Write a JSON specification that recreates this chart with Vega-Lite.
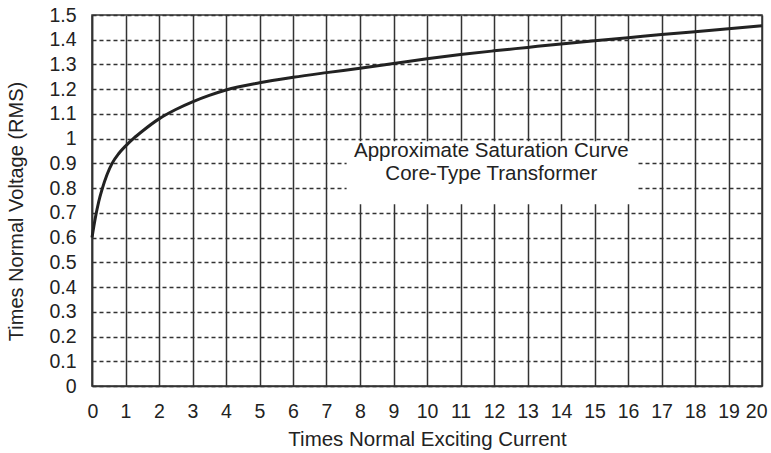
{
  "$schema": "https://vega.github.io/schema/vega-lite/v6.json",
  "width": 670,
  "height": 371,
  "autosize": "none",
  "padding": {"left": 92, "top": 15, "right": 9, "bottom": 67},
  "background": "white",
  "config": {
    "view": {"stroke": "#333", "strokeWidth": 1.5},
    "font": "Liberation Sans"
  },
  "encoding": {
    "x": {
      "field": "x",
      "type": "quantitative",
      "scale": {"domain": [0, 20], "nice": false, "zero": false},
      "axis": {
        "title": "Times Normal Exciting Current",
        "values": [0,1,2,3,4,5,6,7,8,9,10,11,12,13,14,15,16,17,18,19,20],
        "grid": true,
        "gridColor": "#333",
        "gridWidth": 1.5,
        "gridOpacity": 1,
        "domainColor": "#333",
        "domainWidth": 1.5,
        "ticks": false,
        "tickSize": 0,
        "labelFontSize": 19.5,
        "labelColor": "#222",
        "labelPadding": 31,
        "labelBaseline": "alphabetic",
        "labelFlush": true,
        "labelFlushOffset": 5,
        "labelAngle": 0,
        "titleFontSize": 20.5,
        "titleFontWeight": "normal",
        "titleColor": "#222",
        "titleY": 59,
        "titleBaseline": "alphabetic"
      }
    },
    "y": {
      "field": "y",
      "type": "quantitative",
      "scale": {"domain": [0, 1.5], "nice": false, "zero": false},
      "axis": {
        "title": "Times Normal Voltage (RMS)",
        "values": [0,0.1,0.2,0.3,0.4,0.5,0.6,0.7,0.8,0.9,1,1.1,1.2,1.3,1.4,1.5],
        "format": "~g",
        "grid": true,
        "gridColor": "#333",
        "gridWidth": 1.3,
        "gridDash": [4, 3],
        "gridOpacity": 1,
        "domainColor": "#333",
        "domainWidth": 1.5,
        "ticks": false,
        "tickSize": 0,
        "labelFontSize": 19.5,
        "labelColor": "#222",
        "labelPadding": 16,
        "labelFlush": false,
        "titleFontSize": 20,
        "titleFontWeight": "normal",
        "titleColor": "#222",
        "titleX": -70,
        "titleY": 196,
        "titleBaseline": "alphabetic"
      }
    }
  },
  "layer": [
    {
      "data": {"values": [{"x": 7.6, "x2": 16.3, "y": 0.735, "y2": 0.99}]},
      "mark": {"type": "rect", "color": "white", "opacity": 1},
      "encoding": {
        "x2": {"field": "x2"},
        "y2": {"field": "y2"}
      }
    },
    {
      "data": {"values": [
        {"x": 0, "y": 0.6},
        {"x": 0.1, "y": 0.68},
        {"x": 0.2, "y": 0.745},
        {"x": 0.3, "y": 0.795},
        {"x": 0.45, "y": 0.855},
        {"x": 0.6, "y": 0.9},
        {"x": 0.8, "y": 0.94},
        {"x": 1, "y": 0.97},
        {"x": 1.25, "y": 1.002},
        {"x": 1.5, "y": 1.03},
        {"x": 2, "y": 1.08},
        {"x": 2.5, "y": 1.118},
        {"x": 3, "y": 1.149},
        {"x": 3.5, "y": 1.175},
        {"x": 4, "y": 1.197},
        {"x": 5, "y": 1.226},
        {"x": 6, "y": 1.248},
        {"x": 7, "y": 1.267},
        {"x": 8, "y": 1.285},
        {"x": 9, "y": 1.304},
        {"x": 10, "y": 1.323},
        {"x": 11, "y": 1.34},
        {"x": 12, "y": 1.355},
        {"x": 13, "y": 1.369},
        {"x": 14, "y": 1.383},
        {"x": 15, "y": 1.396},
        {"x": 16, "y": 1.408},
        {"x": 17, "y": 1.421},
        {"x": 18, "y": 1.432},
        {"x": 19, "y": 1.444},
        {"x": 20, "y": 1.457}
      ]},
      "mark": {"type": "line", "color": "#222", "strokeWidth": 3, "interpolate": "monotone"},
      "encoding": {}
    },
    {
      "data": {"values": [
        {"x": 11.92, "y": 0.926, "label": "Approximate Saturation Curve"},
        {"x": 11.92, "y": 0.832, "label": "Core-Type Transformer"}
      ]},
      "mark": {"type": "text", "fontSize": 20.5, "baseline": "alphabetic", "align": "center", "color": "#222"},
      "encoding": {
        "text": {"field": "label"}
      }
    }
  ]
}
